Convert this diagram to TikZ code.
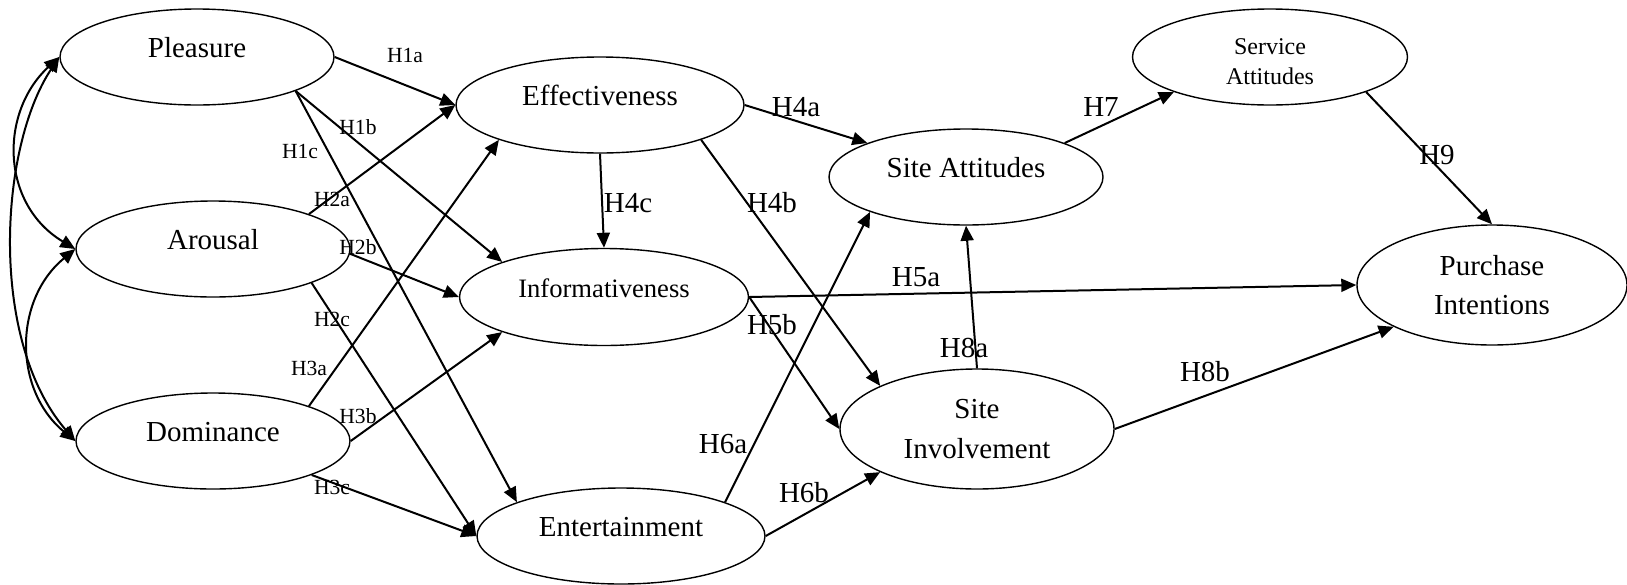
\documentclass[tikz,border=0pt]{standalone}
\usepackage{fontspec}
\setmainfont{Liberation Serif}
\usetikzlibrary{arrows.meta,shapes.geometric}

\begin{document}

\begin{tikzpicture}[x=0.5pt,y=-0.5pt,
  construct/.style={draw,ellipse,line width=0.7pt,inner sep=0pt,align=center,
    font=\fontsize{14.5}{19.7}\selectfont},
  oneline/.style={text height=12pt,text depth=12pt},
  hpath/.style={line width=1pt,-{Triangle[length=7.5pt,width=6.5pt]}},
  cov/.style={line width=1pt,{Triangle[length=7.5pt,width=6.5pt]}-{Triangle[length=7.5pt,width=6.5pt]}},
  hyp/.style={inner sep=0pt,font=\fontsize{14.5}{17}\selectfont},
  hypsmall/.style={inner sep=0pt,font=\fontsize{10.8}{13}\selectfont}]

\useasboundingbox (0,0) rectangle (1627,584);

% emotional states
\node[construct,oneline,minimum width=137pt,minimum height=48pt] (pleasure) at (197,57) {Pleasure};
\node[construct,oneline,minimum width=137pt,minimum height=48pt] (arousal) at (213,249) {Arousal};
\node[construct,oneline,minimum width=137pt,minimum height=48pt] (dominance) at (213,441) {Dominance};

% site perceptions
\node[construct,oneline,minimum width=144pt,minimum height=48pt] (effect) at (600,105) {Effectiveness};
\node[construct,oneline,minimum width=144.5pt,minimum height=48.5pt,font=\fontsize{13.3}{16}\selectfont] (inform) at (604,297) {Informativeness};
\node[construct,oneline,minimum width=144pt,minimum height=48pt] (entert) at (621,536) {Entertainment};

% outcomes
\node[construct,oneline,minimum width=137pt,minimum height=48pt] (siteatt) at (966,177) {Site Attitudes};
\node[construct,minimum width=137pt,minimum height=60pt] (siteinv) at (977,429) {Site\\Involvement};
\node[construct,minimum width=137.5pt,minimum height=48pt,font=\fontsize{12}{15}\selectfont,text height=27pt,text depth=0pt] (servatt) at (1270,57) {Service\\Attitudes};
\node[construct,minimum width=135pt,minimum height=60pt] (purchase) at (1492,285) {Purchase\\Intentions};

% correlations
\draw[cov] (pleasure.west) .. controls +(-60,55) and +(-75,-45) .. (arousal.west);
\draw[cov] (pleasure.west) .. controls +(-60,90) and +(-87,-101) .. (dominance.west);
\draw[cov] (arousal.west) .. controls +(-62,51) and +(-62,-51) .. (dominance.west);

% paths
\draw[hpath] (pleasure.east) -- (effect.west);
\draw[hpath] (pleasure.-19) -- (inform.161);
\draw[hpath] (pleasure.-19) -- (entert.162);
\draw[hpath] (arousal.20) -- (effect.west);
\draw[hpath] (arousal.-2) -- (inform.west);
\draw[hpath] (arousal.-19) -- (entert.west);
\draw[hpath] (dominance.20) -- (effect.199);
\draw[hpath] (dominance.east) -- (inform.199);
\draw[hpath] (dominance.-19) -- (entert.west);
\draw[hpath] (effect.east) -- (siteatt.161);
\draw[hpath] (effect.-19) -- (siteinv.156);
\draw[hpath] (effect.south) -- (inform.north);
\draw[hpath] (inform.east) -- (purchase.west);
\draw[hpath] (inform.east) -- (siteinv.west);
\draw[hpath] (entert.18) -- (siteatt.200);
\draw[hpath] (entert.east) -- (siteinv.204);
\draw[hpath] (siteatt.19) -- (servatt.200);
\draw[hpath] (siteinv.north) -- (siteatt.south);
\draw[hpath] (siteinv.east) -- (purchase.203);
\draw[hpath] (servatt.-20) -- (purchase.north);

% hypothesis labels
\node[hypsmall] (h1a) at (405,55) {H1a};
\node[hypsmall] (h1b) at (358,127) {H1b};
\node[hypsmall] (h1c) at (300,151) {H1c};
\node[hypsmall] (h2a) at (332,199) {H2a};
\node[hypsmall] (h2b) at (358,247) {H2b};
\node[hypsmall] (h2c) at (332,319) {H2c};
\node[hypsmall] (h3a) at (309,368) {H3a};
\node[hypsmall] (h3b) at (358,416) {H3b};
\node[hypsmall] (h3c) at (332,487) {H3c};
\node[hyp] (h4a) at (796,107) {H4a};
\node[hyp] (h4c) at (628,203) {H4c};
\node[hyp] (h4b) at (772,203) {H4b};
\node[hyp] (h5a) at (916,277) {H5a};
\node[hyp] (h5b) at (772,325) {H5b};
\node[hyp] (h6a) at (723,444) {H6a};
\node[hyp] (h6b) at (804,493) {H6b};
\node[hyp] (h7) at (1101,107) {H7};
\node[hyp] (h8a) at (964,348) {H8a};
\node[hyp] (h8b) at (1205,372) {H8b};
\node[hyp] (h9) at (1437,155) {H9};

\end{tikzpicture}

\end{document}
